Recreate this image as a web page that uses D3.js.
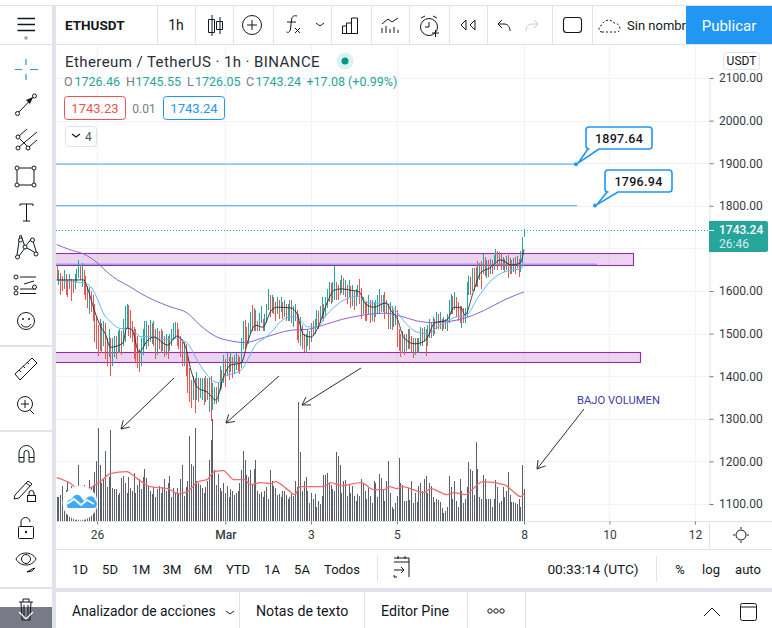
<!DOCTYPE html>
<html>
<head>
<meta charset="utf-8">
<script src="https://cdn.jsdelivr.net/npm/d3@7"></script>
<style>
  html, body { margin: 0; padding: 0; background: #fff; overflow: hidden; }
  svg { display: block; font-family: Roboto, sans-serif; }
  text { fill: #131722; }
</style>
</head>
<body>
<svg id="chart" width="772" height="628"></svg>
<script>
// hourly candles (open = previous close)
const closes = [
  1628,1640,1632,1620,1641,1625,1615,1630,1622,1610, 1630,1640,1662,1640,1650,1625,1610,1590,1600,1575,
  1560,1530,1490,1470,1520,1500,1510,1480,1460,1490, 1430,1470,1480,1465,1490,1495,1475,1500,1530,1555,
  1545,1525,1510,1480,1470,1440,1430,1460,1490,1500, 1510,1495,1520,1500,1505,1485,1495,1490,1480,1490,
  1470,1485,1465,1480,1490,1510,1520,1500,1485,1470, 1440,1465,1440,1400,1370,1350,1380,1360,1385,1370,
  1375,1385,1360,1365,1350,1380,1340,1350,1350,1345, 1370,1400,1390,1420,1405,1435,1420,1440,1425,1430,
  1445,1425,1420,1480,1520,1505,1490,1510,1535,1520, 1540,1520,1515,1530,1545,1510,1525,1550,1580,1560,
  1575,1565,1550,1570,1555,1575,1550,1565,1545,1555, 1560,1540,1550,1565,1530,1490,1530,1500,1470,1480,
  1490,1470,1510,1500,1520,1545,1530,1555,1565,1545, 1575,1590,1610,1585,1600,1645,1600,1595,1610,1625,
  1600,1610,1595,1615,1590,1600,1575,1590,1610,1600, 1565,1575,1555,1540,1575,1555,1570,1545,1565,1575,
  1600,1570,1580,1555,1570,1530,1560,1520,1540,1550, 1500,1490,1470,1490,1475,1480,1500,1480,1470,1455,
  1485,1470,1480,1500,1490,1510,1470,1505,1520,1495, 1535,1510,1545,1525,1540,1510,1535,1525,1530,1570,
  1590,1560,1595,1570,1560,1535,1550,1530,1545,1610, 1630,1600,1650,1620,1655,1610,1660,1650,1685,1640,
  1665,1640,1670,1650,1680,1695,1665,1685,1660,1675, 1660,1670,1645,1668,1650,1672,1660,1675,1650,1670,
  1726,1743.24
];
const highs = [
  1661,1650,1642,1635,1650,1640,1625,1640,1628,1625, 1640,1652,1673,1660,1665,1650,1635,1612,1610,1600,
  1590,1570,1540,1520,1535,1525,1530,1525,1490,1510, 1490,1490,1495,1495,1505,1510,1505,1535,1565,1570,
  1568,1555,1530,1515,1510,1495,1465,1490,1510,1530, 1530,1520,1533,1525,1530,1510,1512,1505,1510,1505,
  1495,1500,1495,1500,1510,1525,1527,1525,1510,1495, 1480,1480,1475,1445,1420,1390,1400,1395,1410,1395,
  1395,1395,1395,1400,1395,1395,1400,1385,1375,1375, 1385,1425,1415,1450,1440,1454,1445,1457,1445,1450,
  1455,1450,1445,1490,1530,1532,1515,1525,1550,1567, 1560,1555,1530,1548,1565,1535,1545,1570,1604,1590,
  1590,1585,1575,1587,1580,1585,1575,1578,1570,1570, 1578,1578,1565,1570,1555,1545,1540,1520,1500,1500,
  1510,1505,1525,1530,1535,1555,1552,1565,1585,1570, 1585,1605,1620,1618,1620,1658,1620,1615,1625,1637,
  1630,1625,1615,1625,1612,1615,1600,1605,1615,1628, 1608,1585,1575,1575,1590,1580,1580,1575,1580,1590,
  1605,1590,1590,1598,1580,1570,1575,1565,1555,1565, 1555,1510,1500,1505,1500,1500,1510,1510,1495,1490,
  1490,1490,1490,1515,1513,1515,1510,1520,1535,1525, 1540,1535,1550,1545,1550,1535,1540,1535,1545,1578,
  1592,1588,1597,1585,1575,1565,1565,1560,1560,1620, 1635,1632,1654,1655,1656,1670,1666,1670,1687,1680,
  1672,1672,1675,1672,1685,1698,1695,1692,1688,1680, 1676,1682,1685,1678,1672,1678,1680,1682,1675,1695,
  1727,1745.55
];
const lows = [
  1626,1615,1590,1600,1605,1590,1585,1605,1577,1595, 1605,1620,1630,1625,1610,1590,1580,1560,1545,1550,
  1530,1480,1465,1448,1460,1455,1470,1440,1425,1445, 1401,1425,1445,1440,1455,1455,1450,1470,1480,1510,
  1495,1490,1480,1440,1430,1420,1410,1425,1450,1470, 1465,1470,1480,1475,1470,1440,1450,1465,1455,1460,
  1445,1450,1440,1460,1470,1485,1490,1470,1465,1445, 1425,1425,1400,1360,1340,1325,1345,1314,1345,1340,
  1350,1345,1332,1340,1345,1315,1295,1320,1335,1335, 1340,1365,1370,1385,1375,1400,1390,1410,1395,1405,
  1415,1410,1405,1420,1465,1465,1470,1475,1500,1505, 1505,1505,1506,1505,1525,1506,1505,1525,1555,1540,
  1548,1545,1530,1545,1535,1550,1535,1540,1530,1530, 1530,1525,1515,1530,1485,1478,1470,1465,1457,1454,
  1470,1462,1480,1495,1500,1515,1510,1525,1535,1530, 1540,1560,1575,1570,1575,1580,1580,1580,1590,1595,
  1590,1585,1570,1585,1560,1565,1555,1565,1585,1570, 1535,1545,1530,1530,1545,1525,1530,1527,1540,1545,
  1545,1550,1550,1535,1545,1510,1510,1508,1515,1520, 1468,1460,1445,1455,1450,1460,1465,1465,1455,1442,
  1450,1455,1455,1470,1470,1480,1447,1470,1490,1490, 1495,1500,1510,1510,1510,1505,1510,1510,1505,1525,
  1545,1545,1555,1540,1530,1525,1513,1525,1525,1540, 1590,1590,1600,1600,1610,1610,1625,1605,1640,1635,
  1630,1632,1640,1640,1650,1665,1650,1660,1650,1650, 1645,1650,1630,1640,1640,1645,1640,1655,1633,1645,
  1665,1726.05
];
const volumes = [
  24,24,26,35,25,31,40,26,35,28, 29,33,56,27,25,36,26,32,41,34,
  36,49,60,93,56,38,43,70,34,44, 91,33,32,32,26,28,43,45,38,28,
  44,33,30,48,28,36,42,32,44,52, 43,35,30,27,34,24,32,35,28,34,
  42,30,38,45,24,33,28,33,27,42, 56,25,34,40,85,57,55,93,40,38,
  36,33,28,34,40,61,81,102,51,36, 47,33,30,38,28,35,24,32,30,26,
  28,30,38,51,70,61,46,44,51,36, 52,61,30,27,29,24,30,34,22,51,
  40,35,33,26,27,24,30,30,26,22, 24,27,25,40,34,119,69,30,40,44,
  30,18,28,22,27,14,20,17,25,46, 46,48,38,36,32,30,69,65,56,28,
  40,41,25,37,28,35,25,20,27,25, 42,38,30,22,33,25,18,40,38,24,
  47,43,32,20,40,60,28,14,12,18, 25,63,38,36,20,20,33,21,40,18,
  28,19,35,38,30,42,45,28,38,35, 24,19,22,21,19,13,8,10,14,45,
  34,22,40,20,14,42,30,18,22,34, 59,52,50,26,79,52,24,22,46,42,
  22,22,22,14,22,41,34,18,20,34, 24,30,49,26,19,19,18,17,22,14,
  56,32
];

// moving averages: [bar index, value] read at the bends of each line
const maFast = [[0,1626],[15,1626],[17,1609],[21,1555],[25,1513],[27,1501],[30,1468],[37,1478],[39,1513],[42,1509],[46,1457],[51,1485],[54,1492],[62,1473],[67,1494],[72,1468],[75,1414],[79,1372],[84,1363],[89,1344],[93,1396],[97,1426],[103,1431],[107,1485],[111,1520],[115,1515],[120,1555],[123,1562],[131,1560],[134,1548],[138,1497],[142,1492],[146,1515],[151,1572],[155,1602],[159,1605],[164,1602],[169,1598],[172,1572],[177,1562],[184,1572],[187,1552],[190,1537],[194,1490],[200,1476],[203,1478],[207,1490],[211,1525],[218,1532],[222,1562],[226,1560],[228,1544],[233,1602],[237,1644],[242,1654],[248,1673],[254,1661],[259,1666],[261,1698]];
const maMid = [[0,1626],[8,1622],[15,1619],[19,1610],[23,1579],[26,1548],[30,1528],[36,1512],[41,1512],[47,1493],[53,1493],[60,1486],[67,1489],[73,1477],[79,1434],[84,1403],[90,1385],[94,1399],[103,1414],[107,1442],[111,1473],[116,1489],[120,1504],[125,1528],[131,1540],[135,1536],[140,1516],[146,1516],[150,1540],[155,1562],[161,1580],[168,1587],[175,1572],[184,1571],[190,1551],[195,1524],[201,1504],[207,1500],[213,1516],[218,1528],[222,1538],[229,1544],[235,1583],[242,1622],[248,1641],[254,1649],[259,1651],[261,1665]];
const maSlow = [[0,1709],[8,1696],[15,1687],[23,1665],[28,1645],[34,1626],[41,1610],[47,1594],[54,1579],[64,1562],[73,1548],[80,1520],[90,1491],[97,1483],[105,1479],[116,1491],[131,1508],[140,1510],[149,1520],[159,1533],[168,1541],[183,1548],[192,1541],[201,1530],[209,1526],[218,1528],[229,1538],[239,1555],[250,1579],[261,1598]];
const maVolume = [[0,43],[7,38],[13,31],[19,33],[25,40],[30,47],[39,49],[45,42],[52,34],[62,32],[68,27],[73,29],[79,39],[84,41],[88,49],[93,50],[99,41],[105,41],[108,36],[114,38],[120,37],[122,39],[129,31],[133,26],[136,34],[149,34],[153,38],[159,35],[170,38],[177,31],[183,31],[186,34],[190,32],[193,34],[205,28],[209,32],[218,26],[222,28],[228,26],[238,39],[250,36],[255,29],[259,24],[261,27]];

const priceTicks = [1100,1200,1300,1400,1500,1600,1700,1800,1900,2000,2100];
const timeTicks = [22.5,94.2,142,190,261,308.7,356.5];
const timeLabels = ["26","Mar","3","5","8","10","12"];
const lastPrice = 1743.24;
// level each target line sits at in the picture, and the price its note shows
const targetLevels = [1897.64, 1800.5];
const targetNotes = ["1897.64", "1796.94"];
const zones = [[1661,1689],[1433,1457]];
const supportLine = 1663;
const rangeButtons = ["1D","5D","1M","3M","6M","YTD","1A","5A","Todos"];

const svg = d3.select("#chart");
const W = 772, H = 628;
const green = "#26a69a", red = "#ef5350", blue = "#2196f3", border = "#e0e3eb", ink = "#131722";

const x = d3.scaleLinear().domain([0, 261]).range([56.7, 524]);
const y = d3.scaleLinear().domain([1100, 2100]).range([504, 78]);
const yVol = d3.scaleLinear().domain([0, 119]).range([520.6, 401.6]);

svg.append("rect").attr("width", W).attr("height", H).attr("fill", "#fff");

// grid
const grid = svg.append("g").attr("stroke", "#f0f3fa").attr("stroke-width", 1);
priceTicks.forEach(p => grid.append("line").attr("x1", 56).attr("x2", 709).attr("y1", Math.round(y(p)) + .5).attr("y2", Math.round(y(p)) + .5));
timeTicks.forEach(t => grid.append("line").attr("x1", Math.round(x(t)) + .5).attr("x2", Math.round(x(t)) + .5).attr("y1", 45).attr("y2", 521));

svg.append("line").attr("x1", 56).attr("x2", 597).attr("y1", y(supportLine)).attr("y2", y(supportLine))
  .attr("stroke", "#64b5f6").attr("stroke-width", 1);

// zones
zones.forEach((z, i) => {
  svg.append("rect")
    .attr("x", 50).attr("width", (i === 0 ? 633.5 : 640.5) - 50)
    .attr("y", Math.round(y(z[1])) + .5).attr("height", Math.round(y(z[0])) - Math.round(y(z[1])))
    .attr("fill", "#9c27b0").attr("fill-opacity", .2).attr("stroke", "#9c27b0").attr("stroke-width", 1.1);
});

// target lines
targetLevels.forEach(t => {
  svg.append("line").attr("x1", 56).attr("x2", 577).attr("y1", y(t)).attr("y2", y(t))
    .attr("stroke", "#64b5f6").attr("stroke-width", 1.2);
});

// last price dotted
svg.append("line").attr("x1", 56).attr("x2", 709).attr("y1", Math.round(y(lastPrice)) + .5).attr("y2", Math.round(y(lastPrice)) + .5)
  .attr("stroke", green).attr("stroke-dasharray", "1 2").attr("stroke-width", 1);

// volume
svg.append("g").attr("shape-rendering", "crispEdges").selectAll("rect").data(volumes).enter().append("rect")
  .attr("x", (d, i) => Math.round(x(i))).attr("width", 1)
  .attr("y", d => yVol(d)).attr("height", d => yVol(0) - yVol(d))
  .attr("fill", "#5d606b");

const line = d3.line().x(d => x(d[0])).curve(d3.curveMonotoneX);
svg.append("path").attr("d", line.y(d => yVol(d[1]))(maVolume))
  .attr("fill", "none").attr("stroke", "#f56a6a").attr("stroke-width", 1.3);

// candles
const candles = closes.map((c, i) => ({ i, c, o: i ? closes[i - 1] : 1661, h: highs[i], l: lows[i] }));
const cg = svg.append("g").attr("shape-rendering", "crispEdges");
cg.selectAll("rect").data(candles).enter().append("rect")
  .attr("x", d => Math.round(x(d.i))).attr("width", 1)
  .attr("y", d => y(d.h)).attr("height", d => y(d.l) - y(d.h))
  .attr("fill", d => d.c >= d.o ? green : red);

// moving averages
[[maSlow, "#8e63cf", 1], [maMid, "#64b5f6", 1], [maFast, "#2a2a2e", .9]].forEach(([s, col, w]) => {
  svg.append("path").attr("d", line.y(d => y(d[1]))(s))
    .attr("fill", "none").attr("stroke", col).attr("stroke-width", w);
});

// drawn arrows
function arrow(x1, y1, x2, y2) {
  const a = Math.atan2(y2 - y1, x2 - x1), L = 9;
  svg.append("line").attr("x1", x1).attr("y1", y1).attr("x2", x2).attr("y2", y2).attr("stroke", "#2a2e39").attr("stroke-width", 1);
  svg.append("path").attr("fill", "none").attr("stroke", "#2a2e39").attr("stroke-width", 1)
    .attr("d", `M${x2 + L * Math.cos(a + Math.PI - .55)},${y2 + L * Math.sin(a + Math.PI - .55)}L${x2},${y2}L${x2 + L * Math.cos(a + Math.PI + .55)},${y2 + L * Math.sin(a + Math.PI + .55)}`);
}
arrow(174, 378, 121, 429);
arrow(279, 376, 226, 423);
arrow(361, 368, 302, 405);
arrow(584, 409, 537, 469);
svg.append("text").attr("x", 577).attr("y", 404).attr("font-size", 11.5).attr("textLength", 83).attr("lengthAdjust", "spacingAndGlyphs")
  .style("fill", "#3f3d9e").text("BAJO VOLUMEN");

// callouts
function callout(bx, by, bw, px, py, tipX, label) {
  svg.append("path").attr("fill", "#fff").attr("stroke", blue).attr("stroke-width", 1.6).attr("stroke-linejoin", "round")
    .attr("d", `M${bx + 3},${by}H${bx + bw - 3}Q${bx + bw},${by} ${bx + bw},${by + 3}V${by + 19}Q${bx + bw},${by + 22} ${bx + bw - 3},${by + 22}H${tipX + 13}L${px + 2},${py - 1}L${tipX + 2},${by + 22}H${bx + 3}Q${bx},${by + 22} ${bx},${by + 19}V${by + 3}Q${bx},${by} ${bx + 3},${by}Z`);
  svg.append("circle").attr("cx", px).attr("cy", py).attr("r", 2).attr("fill", blue);
  svg.append("text").attr("x", bx + bw / 2).attr("y", by + 15.5).attr("text-anchor", "middle").attr("font-size", 12.5).attr("font-weight", 500).style("letter-spacing", ".3px").text(label);
}
callout(586, 127, 66, 576, y(targetLevels[0]), 586, targetNotes[0]);
callout(605, 170, 67, 595, y(targetLevels[1]), 605, targetNotes[1]);

// logo
svg.append("circle").attr("cx", 80).attr("cy", 503).attr("r", 17).attr("fill", "#fff").attr("stroke", "#eceef2");
svg.append("path").attr("fill", "#3fa9f5")
  .attr("d", "M68,508c-3,-4 0,-9 4,-9c1,-4 6,-6 9,-2l3,4l4,-4c3,-2 7,0 7,3c3,2 2,8 -1,8z");
svg.append("path").attr("fill", "none").attr("stroke", "#fff").attr("stroke-width", 1.8).attr("d", "M67,504l7,-5l7,6l6,-5l7,4");

// right axis, the 1700 tick sits under the price tag
const axisG = svg.append("g").attr("transform", "translate(709.5,0)")
  .call(d3.axisRight(y).tickValues(priceTicks.filter(p => p !== 1700)).tickFormat(d3.format(".2f")).tickSize(4).tickPadding(5.5));
axisG.select(".domain").attr("stroke", border);
axisG.selectAll(".tick line").attr("stroke", "#787b86");
axisG.selectAll("text").attr("font-size", 12).attr("font-family", "Roboto").style("fill", "#363a45");

svg.append("rect").attr("x", 723.5).attr("y", 52.5).attr("width", 36).attr("height", 17).attr("rx", 3).attr("fill", "#fff").attr("stroke", border);
svg.append("text").attr("x", 741.5).attr("y", 65).attr("text-anchor", "middle").attr("font-size", 12).text("USDT");

// price tag
svg.append("path").attr("fill", green).attr("d", "M709,221H766Q768,221 768,223V250Q768,252 766,252H709Z");
svg.append("line").attr("x1", 709).attr("x2", 714).attr("y1", Math.round(y(lastPrice)) + .5).attr("y2", Math.round(y(lastPrice)) + .5).attr("stroke", "#fff");
svg.append("text").attr("x", 719).attr("y", 234).attr("font-size", 12).attr("font-weight", 500).style("fill", "#fff").text("1743.24");
svg.append("text").attr("x", 719).attr("y", 248).attr("font-size", 12).style("fill", "#d3eeeb").text("26:46");

// time axis row
svg.append("rect").attr("x", 56).attr("y", 521).attr("width", 716).attr("height", 28).attr("fill", "#fff");
const axisX = svg.append("g").attr("transform", "translate(0,521.5)")
  .call(d3.axisBottom(x).tickValues(timeTicks).tickFormat((d, i) => timeLabels[i]).tickSize(3).tickPadding(6));
axisX.select(".domain").attr("stroke", border).attr("d", "M56,0H772");
axisX.selectAll(".tick line").attr("stroke", "#787b86");
axisX.selectAll("text").attr("font-size", 12).attr("font-family", "Roboto").style("fill", "#363a45");
axisX.selectAll("text").filter((d, i) => i === 1).attr("font-weight", 500);
svg.append("line").attr("x1", 709.5).attr("x2", 709.5).attr("y1", 521).attr("y2", 549).attr("stroke", border);

// header legend
svg.append("text").attr("x", 65).attr("y", 67).attr("font-size", 15).style("letter-spacing", ".42px").style("fill", "#2a2e39").text("Ethereum / TetherUS · 1h · BINANCE");
svg.append("circle").attr("cx", 345).attr("cy", 61).attr("r", 8.5).attr("fill", "#dcf2ef");
svg.append("circle").attr("cx", 345).attr("cy", 61).attr("r", 3.5).attr("fill", "#009688");

const ohlc = svg.append("text").attr("y", 86).attr("font-size", 12.5);
[["O", 0, 64], ["1726.46", 1, 74.5], ["H", 0, 126], ["1745.55", 1, 135.5], ["L", 0, 187], ["1726.05", 1, 195], ["C", 0, 246], ["1743.24", 1, 255.5], ["+17.08 (+0.99%)", 1, 306.5]].forEach(([t, c, px]) => {
  ohlc.append("tspan").attr("x", px).style("fill", c ? green : "#787b86").text(t);
});

svg.append("rect").attr("x", 64.5).attr("y", 96.5).attr("width", 61).attr("height", 23).attr("rx", 3).attr("fill", "#fff").attr("stroke", red);
svg.append("text").attr("x", 95).attr("y", 113).attr("text-anchor", "middle").attr("font-size", 13).style("fill", red).text("1743.23");
svg.append("text").attr("x", 144).attr("y", 113).attr("text-anchor", "middle").attr("font-size", 12).style("fill", "#787b86").text("0.01");
svg.append("rect").attr("x", 163.5).attr("y", 96.5).attr("width", 61).attr("height", 23).attr("rx", 3).attr("fill", "#fff").attr("stroke", blue);
svg.append("text").attr("x", 194).attr("y", 113).attr("text-anchor", "middle").attr("font-size", 13).style("fill", blue).text("1743.24");
svg.append("rect").attr("x", 65.5).attr("y", 126.5).attr("width", 31).attr("height", 20).attr("rx", 3).attr("fill", "#fff").attr("stroke", border);
svg.append("path").attr("fill", "none").attr("stroke", ink).attr("stroke-width", 1.2).attr("d", "M72,134l4,3l4,-3");
svg.append("text").attr("x", 85).attr("y", 141).attr("font-size", 12).style("fill", "#50535e").text("4");

// chrome: panels
svg.append("rect").attr("x", 0).attr("y", 0).attr("width", W).attr("height", 44).attr("fill", "#fff");
svg.append("rect").attr("x", 0).attr("y", 5).attr("width", W).attr("height", 1).attr("fill", border);
svg.append("rect").attr("x", 0).attr("y", 44).attr("width", W).attr("height", 1).attr("fill", border);
svg.append("rect").attr("x", 0).attr("y", 45).attr("width", 52).attr("height", H).attr("fill", "#fff");
svg.append("rect").attr("x", 52).attr("y", 6).attr("width", 4).attr("height", H).attr("fill", border);
[157, 195, 233, 273, 331, 371, 409, 449, 487, 552, 592].forEach(v => {
  svg.append("rect").attr("x", v).attr("y", 6).attr("width", 1).attr("height", 38).attr("fill", border);
});
[345, 430, 587].forEach(v => svg.append("rect").attr("x", 0).attr("y", v).attr("width", 52).attr("height", 2).attr("fill", border));
svg.append("rect").attr("x", 0).attr("y", 607).attr("width", 52).attr("height", 21).attr("fill", "#787b86");

svg.append("rect").attr("x", 56).attr("y", 549).attr("width", 716).attr("height", 79).attr("fill", "#fff");
svg.append("rect").attr("x", 56).attr("y", 549).attr("width", 716).attr("height", 1).attr("fill", border);
svg.append("rect").attr("x", 52).attr("y", 588).attr("width", 720).attr("height", 4).attr("fill", border);
[239, 364, 467, 525].forEach(v => svg.append("rect").attr("x", v).attr("y", 592).attr("width", 1).attr("height", 36).attr("fill", border));
[377, 656].forEach(v => svg.append("rect").attr("x", v).attr("y", 556).attr("width", 1).attr("height", 26).attr("fill", border));

// top texts
function label(t, px, py, size, anchor, weight) {
  return svg.append("text").attr("x", px).attr("y", py).attr("font-size", size).attr("text-anchor", anchor || "start").attr("font-weight", weight || 400).text(t);
}
label("ETHUSDT", 65, 30, 13.5, "start", 700);
label("1h", 176, 30, 14, "middle");
label("Sin nombr", 627, 30, 13);
svg.append("rect").attr("x", 686).attr("y", 6).attr("width", 86).attr("height", 38).attr("fill", blue);
label("Publicar", 729, 31, 15, "middle").style("fill", "#fff");

// range row
const rangeX = [80, 110, 141, 172, 203, 238, 272, 302, 342];
rangeButtons.forEach((b, i) => label(b, rangeX[i], 574, 13, "middle"));
label("00:33:14 (UTC)", 593, 574, 13.7, "middle");
label("%", 680, 574, 13, "middle");
label("log", 711, 574, 13, "middle");
label("auto", 748, 574, 13, "middle");
label("Analizador de acciones", 72, 616, 13.9);
label("Notas de texto", 256, 616, 14.2);
label("Editor Pine", 381, 616, 14.2);

// icons
function icon(d, sw, col) {
  return svg.append("path").attr("d", d).attr("fill", "none").attr("stroke", col || ink).attr("stroke-width", sw || 1);
}
function circ(cx, cy, r, sw, col) {
  return svg.append("circle").attr("cx", cx).attr("cy", cy).attr("r", r).attr("fill", "#fff").attr("stroke", col || ink).attr("stroke-width", sw || 1);
}
// top bar
icon("M17.5,18.5H35M17.5,24.5H35M17.5,30.5H35", 1.4);
svg.append("circle").attr("cx", 26).attr("cy", 38).attr("r", 1.8).attr("fill", "#a0a3ad");
icon("M212,15V36M220,17V34M208.5,19.5h6v13h-6zM216.5,21.5h6v8h-6z");
circ(252, 25, 9.5); icon("M247,25H257M252,20V30");
icon("M297,16c-4,-1 -5,1 -5.5,4l-1,9c-.5,3 -2,4 -4,3M287,22H296M295,28l5,5M300,28l-5,5");
icon("M316,23l4,3l4,-3");
icon("M342.5,33.5V26h4v7.5zM346.5,33.5V23h5v10.5zM351.5,33.5V18h6v15.5zM342,33.5H358");
icon("M382,24l6,-5l4,3l6,-4M382,33v-5M386,33v-7M390,33v-4M394,33v-6M398,33v-3");
circ(429, 27, 8.5); icon("M421,18l4,-2M437,18l-4,-2M429,22v5h-4M432,33h7M435.5,30v7");
icon("M466,20v10l-5,-5zM475,20v10l-5,-5z");
icon("M510,31c0,-5 -3,-7 -6,-7h-6M502,20l-4,4l4,4");
icon("M526,31c0,-5 3,-7 6,-7h6M534,20l4,4l-4,4", 1, "#c5c8d0");
svg.append("rect").attr("x", 563.5).attr("y", 17.5).attr("width", 18).attr("height", 15).attr("rx", 3).attr("fill", "none").attr("stroke", ink).attr("stroke-width", 1.1);
icon("M602,32c-4,0 -4,-6 0,-7c1,-5 9,-7 12,-2c4,0 6,3 6,6c0,2 -2,3 -3,3z").attr("stroke-dasharray", "2 2");
// left bar
icon("M26,59v6M26,74v6M15,69.5H22M30,69.5H38", 1.2, blue);
circ(34.5, 96, 2); circ(17.5, 113.5, 2); icon("M19,112L33,97.5");
svg.append("path").attr("d", "M33,97l-7,3l4,4z").attr("fill", ink);
circ(18, 137, 2); circ(18, 148, 2); circ(28, 148, 2); icon("M19,136L27,129M19,147L37,132M29,147L37,140M20,139L27,146");
circ(17, 168, 2); circ(34, 168, 2); circ(17, 185, 2); circ(34, 185, 2); icon("M17,170V183M34,170V183M19,168H32M19,185H32");
icon("M20,204H33M26.5,204V221M23,221H30M20,204v2M33,204v2");
icon("M20,235L17,255M21,235L25,247L32,238M32,238L37,254M25,247L36,253M19,256L25,248");
circ(20.5, 240, 2); circ(32.5, 240, 2); circ(25, 247, 2); circ(17.5, 257, 2); circ(36, 254, 2);
icon("M20,277H36M20,289H36M20,293.5H36M24,284l10,-3", 1);
circ(16, 277, 2); circ(34.5, 287, 2); circ(16, 288, 2); circ(16, 293, 2);
circ(26, 321, 8.5); svg.append("circle").attr("cx", 23).attr("cy", 319).attr("r", 1).attr("fill", ink); svg.append("circle").attr("cx", 29).attr("cy", 319).attr("r", 1).attr("fill", ink);
icon("M21,324c2,4 8,4 10,0");
icon("M15,374L32,358l5,5L20,380zM19,370l2,2M23,366l2,2M27,362l2,2");
circ(25, 404, 7.5); icon("M21,404H29M25,400V408M30,410l4,4");
icon("M19,462v-9a7.5,7.5 0 0 1 15,0v9h-5v-9a2.5,2.5 0 0 0 -5,0v9zM19,457.5h5M29,457.5h5");
icon("M15,495L28,481l4,3L19,498l-5,1zM26,483l4,3");
svg.append("rect").attr("x", 27.5).attr("y", 495.5).attr("width", 8).attr("height", 6).attr("fill", "#fff").attr("stroke", ink);
icon("M29,495v-2a2.5,2.5 0 0 1 5,0v2");
svg.append("rect").attr("x", 18.5).attr("y", 526.5).attr("width", 15).attr("height", 12).attr("rx", 1).attr("fill", "#fff").attr("stroke", ink);
icon("M21,526v-4a4.5,4.5 0 0 1 9,0");
svg.append("circle").attr("cx", 26).attr("cy", 532).attr("r", 1.2).attr("fill", ink);
icon("M16,559c4,-8 16,-8 20,0c-4,8 -16,8 -20,0z"); circ(26, 559, 4.5);
icon("M27,572l5,-3l3,-1l-3,3z");
icon("M19,602h14M21,602l1,18h8l1,-18M23,602v-3h6v3M24,605v13M28,605v13");
icon("M19,612l7,7l7,-7", 1.2, "#fff");
// bottom bars
icon("M394,562h15v15M394,558h15v4M398,556v3M405,556v3M394,570h10M401,567l3,3l-3,3M394,575v2h3");
icon("M736,535a5,5 0 1 0 10,0a5,5 0 1 0 -10,0M741,527v2M741,541v2M733,535h2M747,535h2");
icon("M226,611l4,3l4,-3", 1);
[490, 496, 502].forEach(v => circ(v, 611, 2.2));
icon("M704,616l8,-8l8,8");
svg.append("rect").attr("x", 740.5).attr("y", 603.5).attr("width", 16).attr("height", 17).attr("rx", 2).attr("fill", "none").attr("stroke", ink);
icon("M741,607H756");
</script>
</body>
</html>
